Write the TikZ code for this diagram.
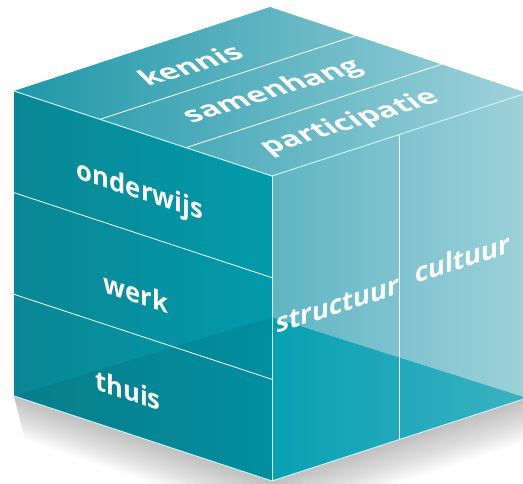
\documentclass[tikz,border=0pt]{standalone}
\usepackage{fontspec}
\setmainfont{Open Sans}
\usetikzlibrary{calc}

\definecolor{leftA}{HTML}{0A8794}
\definecolor{leftB}{HTML}{029AAC}
\definecolor{topA}{HTML}{1F97A8}
\definecolor{topB}{HTML}{A0D2DB}
\definecolor{rightA}{HTML}{5FB5C3}
\definecolor{rightB}{HTML}{9ED1DA}
\definecolor{rightC}{HTML}{08A0B3}
\definecolor{rightD}{HTML}{3BB2C2}
\definecolor{rim}{HTML}{C8F2F7}

\tikzset{
  rimline/.style={draw=rim, line width=1pt},
  bandline/.style={draw=white, line width=0.8pt},
  facetext/.style={text=white, inner sep=0pt,
    font=\bfseries\fontsize{27}{27}\selectfont},
  lefttext/.style={facetext, cm={0.950,-0.313,0,1,(0,0)}},
  righttext/.style={facetext, cm={0.951,0.310,0,1,(0,0)}},
  toptext/.style={facetext, font=\bfseries\fontsize{31}{31}\selectfont,
    cm={0.956,0.292,-0.6,0.6,(0,0)}},
}

\begin{document}
\begin{tikzpicture}[x=1pt,y=1pt]
  \useasboundingbox (0,0) rectangle (523,483);
  \clip (0,0) rectangle (523,483);

  % corners of the cube
  \coordinate (F)  at (272,307);
  \coordinate (L)  at (14,392);
  \coordinate (T)  at (270,476);
  \coordinate (R)  at (527,390);
  \coordinate (FB) at (272,2);
  \coordinate (LB) at (14,87);
  \coordinate (RB) at (527,85);
  \coordinate (S)  at (272,166);

  % shadow
  \foreach \i in {1,...,18}
    \fill[black, opacity=0.014]
      ($(LB)+(0.6*\i,-2.4*\i)$) -- ($(FB)+(0,-2.4*\i)$) -- ($(RB)+(0,-2.4*\i)$)
      -- (RB) -- (FB) -- (LB) -- cycle;

  % left face
  \shade[left color=leftA, right color=leftB] (L) -- (F) -- (FB) -- (LB) -- cycle;
  \fill[black, opacity=0.07] (LB) -- (S) -- (FB) -- cycle;

  % right face
  \shade[left color=rightA, right color=rightB] (F) -- (R) -- (RB) -- (S) -- cycle;
  \shade[left color=rightC, right color=rightD] (S) -- (RB) -- (FB) -- cycle;

  % top face
  \shade[left color=topA, right color=topB] (F) -- (L) -- (T) -- (R) -- cycle;

  % dividing lines
  \draw[bandline] ($(F)!1/3!(L)$) -- ($(R)!1/3!(T)$);
  \draw[bandline] ($(F)!2/3!(L)$) -- ($(R)!2/3!(T)$);
  \draw[bandline] ($(L)!1/3!(LB)$) -- ($(F)!1/3!(FB)$);
  \draw[bandline] ($(L)!2/3!(LB)$) -- ($(F)!2/3!(FB)$);
  \draw[bandline] ($(F)!0.5!(R)$) -- ($(FB)!0.5!(RB)$);

  % edges
  \draw[rimline] (L) -- (F) -- (R);
  \draw[rimline] (F) -- (FB);
  \draw[rimline] (LB) -- (FB) -- (RB);

  % labels
  \node[toptext] (kennis) at (190,418) {kennis};
  \node[toptext] (samenhang) at (273,391) {samenhang};
  \node[toptext] (participatie) at (350,360) {participatie};
  \node[lefttext] (onderwijs) at (140,291) {onderwijs};
  \node[lefttext] (werk) at (136,190) {werk};
  \node[lefttext] (thuis) at (128,93) {thuis};
  \node[righttext] (structuur) at (338,178) {structuur};
  \node[righttext] (cultuur) at (463,225) {cultuur};
\end{tikzpicture}
\end{document}
